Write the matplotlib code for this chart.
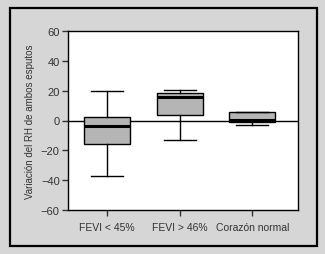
import matplotlib.pyplot as plt
from matplotlib.patches import Rectangle

plt.rcParams["font.family"] = ["Liberation Sans", "DejaVu Sans"]

# datos
grupos = ["FEVI < 45%", "FEVI > 46%", "Corazón normal"]
bigote_inf = [-37.5, -13.3, -3.2]
q1 = [-16.0, 3.5, -1.2]
mediana = [-3.5, 16.0, 0.5]
q3 = [2.5, 18.6, 5.7]
bigote_sup = [19.6, 20.4, 5.7]

stats = []
for i, g in enumerate(grupos):
    stats.append({"label": g, "whislo": bigote_inf[i], "q1": q1[i], "med": mediana[i],
                  "q3": q3[i], "whishi": bigote_sup[i], "fliers": []})

fig = plt.figure(figsize=(3.25, 2.55), dpi=100)
fig.patch.set_facecolor("#d6d6d6")
fig.patches.append(Rectangle((0.031, 0.031), 0.945, 0.933, transform=fig.transFigure,
                             fill=False, edgecolor="black", linewidth=1.6))

ax = fig.add_axes([68 / 325, 1 - 211 / 255, 230 / 325, 179 / 255])
ax.axhline(0, color="black", linewidth=1.0, zorder=1)
ax.bxp(stats, positions=[1, 2, 3], widths=0.63, patch_artist=True, showfliers=False,
       capwidths=0.44,
       boxprops=dict(facecolor="#b5b5b5", edgecolor="black", linewidth=1.0),
       medianprops=dict(color="black", linewidth=2.2),
       whiskerprops=dict(color="black", linewidth=1.0),
       capprops=dict(color="black", linewidth=1.0))

ax.set_xlim(0.46, 3.63)
ax.set_ylim(-60, 60)
ax.set_yticks([-60, -40, -20, 0, 20, 40, 60])
ax.set_yticklabels(["\u221260", "\u221240", "\u221220", "0", "20", "40", "60"])
ax.tick_params(direction="out", length=4, width=1.0, labelsize=8, colors="#333333")
ax.tick_params(axis="y", pad=2)
ax.tick_params(axis="x", labelsize=7.5, pad=5)
for s in ax.spines.values():
    s.set_linewidth(1.0)
ax.set_ylabel("Variación del RH de ambos esputos", fontsize=7, color="#333333", labelpad=4)

plt.savefig("out.png", dpi=100, facecolor=fig.get_facecolor())
